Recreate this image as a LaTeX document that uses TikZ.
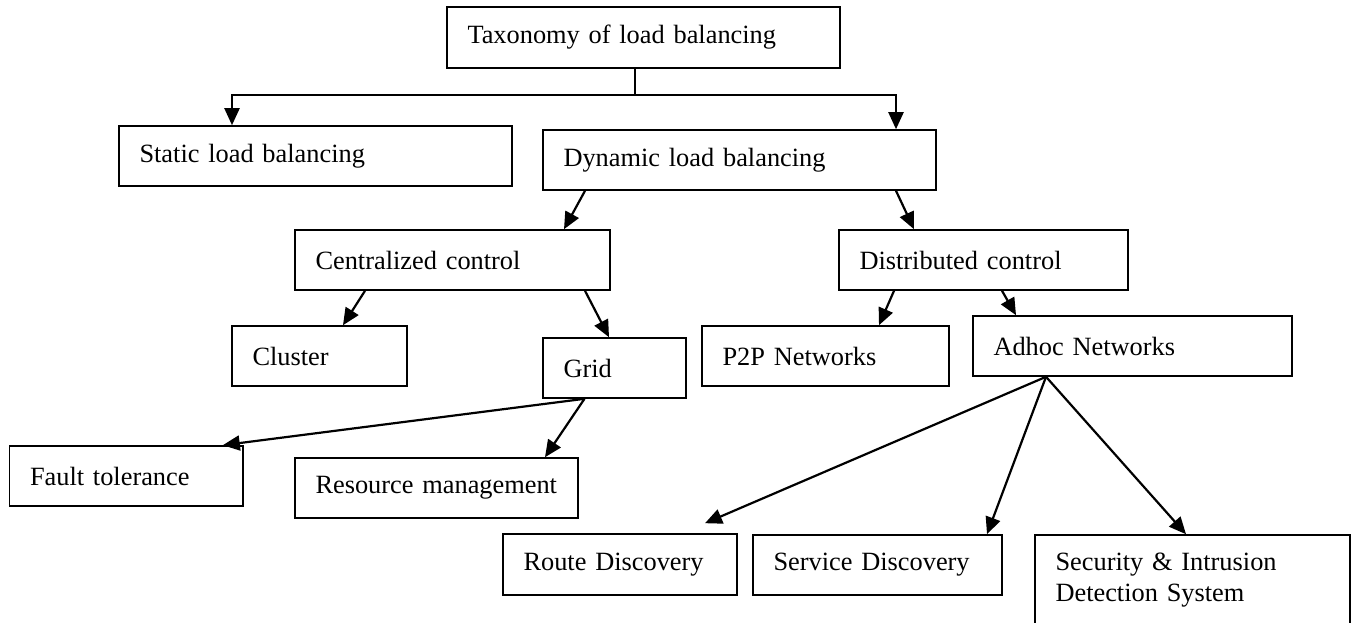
\documentclass[tikz,border=0pt]{standalone}
\usepackage{fontspec}
\setmainfont{Liberation Serif}
\usetikzlibrary{arrows.meta}

\begin{document}
\begin{tikzpicture}[%
      blk/.style={draw, rectangle, line width=0.9pt, inner xsep=4.1mm, inner ysep=0pt,
        minimum height=1.2cm, align=left, font=\fontsize{15}{17.6}\selectfont},
      wd/.style 2 args={minimum width=#1cm, text width=#2cm},
      arr/.style={line width=1.25pt, -{Triangle[length=3.4mm,width=3mm]}},
      ]
      \useasboundingbox (0,0) rectangle (27.08,-12.44);
      \clip (0,0) rectangle (27.08,-12.44);

      \node [blk, wd={7.86}{7.04}, minimum height=1.22cm] (tax) at (12.87,-0.75) {Taxonomy of load balancing};
      \node [blk, wd={7.86}{7.04}] (static) at (6.31,-3.12) {Static load balancing};
      \node [blk, wd={7.86}{7.04}] (dyn) at (14.79,-3.20) {Dynamic load balancing};

      \node [blk, wd={6.30}{5.48}] (cent) at (9.05,-5.20) {Centralized control};
      \node [blk, wd={5.78}{4.96}] (dist) at (19.67,-5.20) {Distributed control};

      \node [blk, wd={3.50}{2.68}] (cluster) at (6.39,-7.12) {Cluster};
      \node [blk, wd={2.86}{2.04}] (grid) at (12.29,-7.36) {Grid};
      \node [blk, wd={4.94}{4.12}] (p2p) at (16.51,-7.12) {P2P Networks};
      \node [blk, wd={6.38}{5.56}] (adhoc) at (22.65,-6.92) {Adhoc Networks};

      \node [blk, wd={4.67}{3.85}] (fault) at (2.525,-9.52) {Fault tolerance};
      \node [blk, wd={5.66}{4.84}] (res) at (8.73,-9.76) {Resource management};

      \node [blk, wd={4.68}{3.86}, minimum height=1.22cm] (route) at (12.40,-11.29) {Route Discovery};
      \node [blk, wd={4.98}{4.16}] (serv) at (17.55,-11.30) {Service Discovery};
      \node [blk, wd={6.30}{5.48}, minimum height=1.8cm] (sec) at (23.85,-11.60) {Security \& Intrusion\\Detection System};

      % fork below the root
      \draw [line width=1.25pt] ([xshift=-1.7mm]tax.south) -- ++(0,-0.52) coordinate (fork);
      \draw [arr] (fork) -| ([xshift=-16.7mm]static.north);
      \draw [arr] (fork) -| ([xshift=31.3mm]dyn.north);

      \draw [arr] ([xshift=-30.9mm]dyn.south) -- ([xshift=22.3mm]cent.north);
      \draw [arr] ([xshift=31.3mm]dyn.south) -- ([xshift=-13.9mm]dist.north);

      \draw [arr] ([xshift=-17.5mm]cent.south) -- ([xshift=4.7mm]cluster.north);
      \draw [arr] ([xshift=26.5mm]cent.south) -- ([xshift=-1.1mm]grid.north);
      \draw [arr] ([xshift=-17.9mm]dist.south) -- ([xshift=10.7mm]p2p.north);
      \draw [arr] ([xshift=3.7mm]dist.south) -- ([xshift=-23.3mm]adhoc.north);

      \coordinate (gridfoot) at ([xshift=-6mm]grid.south);
      \draw [arr] (gridfoot) -- ([xshift=-4.2mm]fault.north east);
      \draw [arr] (gridfoot) -- ([xshift=21.7mm]res.north);

      \coordinate (hub) at ([xshift=-17.3mm]adhoc.south);
      \draw [arr] (hub) -- ([xshift=17mm,yshift=2mm]route.north);
      \draw [arr] (hub) -- ([xshift=21.9mm]serv.north);
      \draw [arr] (hub) -- ([xshift=-1.3mm]sec.north);
      \end{tikzpicture}
\end{document}
